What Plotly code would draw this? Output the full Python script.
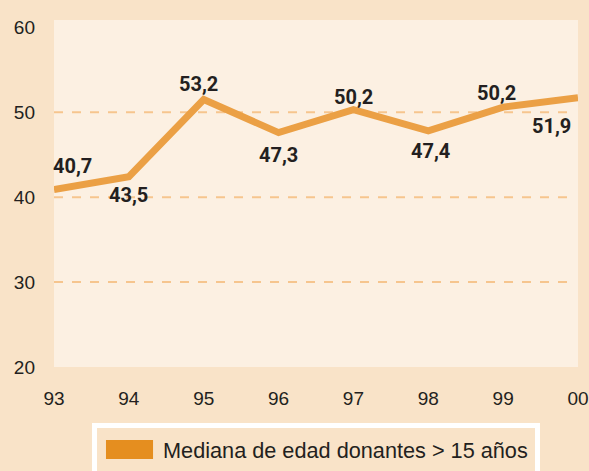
import plotly.graph_objects as go

years = [93, 94, 95, 96, 97, 98, 99, 100]
year_labels = ["93", "94", "95", "96", "97", "98", "99", "00"]
median_age = [40.9, 42.4, 51.5, 47.6, 50.3, 47.8, 50.6, 51.7]
value_labels = ["40,7", "43,5", "53,2", "47,3", "50,2", "47,4", "50,2", "51,9"]
y_ticks = [20, 30, 40, 50, 60]
grid_values = [30, 40, 50]
series_name = "Mediana de edad donantes > 15 años"

# label offsets in pixels (style)
label_shift = [(18, 24), (0, -18), (-5, 15), (0, -22), (0, 13), (2, -20), (-7, 14), (-27, -28)]

OUTER = "#f9e3c8"
INNER = "#fcf0e2"
LINE = "#eba045"
GRID = "#f6c58e"
TXT = "#231f20"

fig = go.Figure()
fig.add_trace(go.Scatter(
    x=years, y=median_age, mode="lines",
    line=dict(color=LINE, width=7), showlegend=False, hoverinfo="skip",
))

shapes = []
for g in grid_values:
    shapes.append(dict(type="line", xref="paper", yref="y", x0=0, x1=0.99, y0=g, y1=g,
                       line=dict(color=GRID, width=2, dash="dash"), layer="below"))

# legend box
shapes.append(dict(type="rect", xref="paper", yref="paper", x0=0.0773, x1=0.9227,
                   y0=-0.1686, y1=-0.40, line=dict(color="white", width=5), fillcolor=OUTER))
shapes.append(dict(type="rect", xref="paper", yref="paper", x0=0.0992, x1=0.189,
                   y0=-0.2104, y1=-0.2651, line=dict(width=0), fillcolor="#e58e1f"))

annotations = []
for x, y, t, (dx, dy) in zip(years, median_age, value_labels, label_shift):
    annotations.append(dict(x=x, y=y, xref="x", yref="y", text=t, showarrow=False,
                            xshift=dx, yshift=dy,
                            font=dict(family="Roboto", size=20, color=TXT, weight="bold")))
annotations.append(dict(x=0.2042, y=-0.2392, xref="paper", yref="paper", text=series_name,
                        showarrow=False, xanchor="left", yanchor="middle",
                        font=dict(family="Liberation Sans", size=21.7, color=TXT)))

fig.update_layout(
    width=589, height=471,
    margin=dict(l=54, r=11, t=20, b=104, autoexpand=False),
    paper_bgcolor=OUTER, plot_bgcolor=INNER,
    shapes=shapes, annotations=annotations,
    showlegend=False,
)
fig.update_xaxes(range=[93, 100], tickvals=years, ticktext=year_labels,
                 showgrid=False, zeroline=False, showline=False, ticks="",
                 ticklabelstandoff=18, automargin=False,
                 tickfont=dict(family="Liberation Sans", size=19, color=TXT))
fig.update_yaxes(range=[20, 60.86], tickvals=y_ticks,
                 showgrid=False, zeroline=False, showline=False, ticks="",
                 ticklabelstandoff=18, automargin=False,
                 tickfont=dict(family="Liberation Sans", size=19, color=TXT))

fig.write_html("out.html", config={"displayModeBar": False},
               post_script="document.body.style.margin='0';document.body.style.overflow='hidden';")
